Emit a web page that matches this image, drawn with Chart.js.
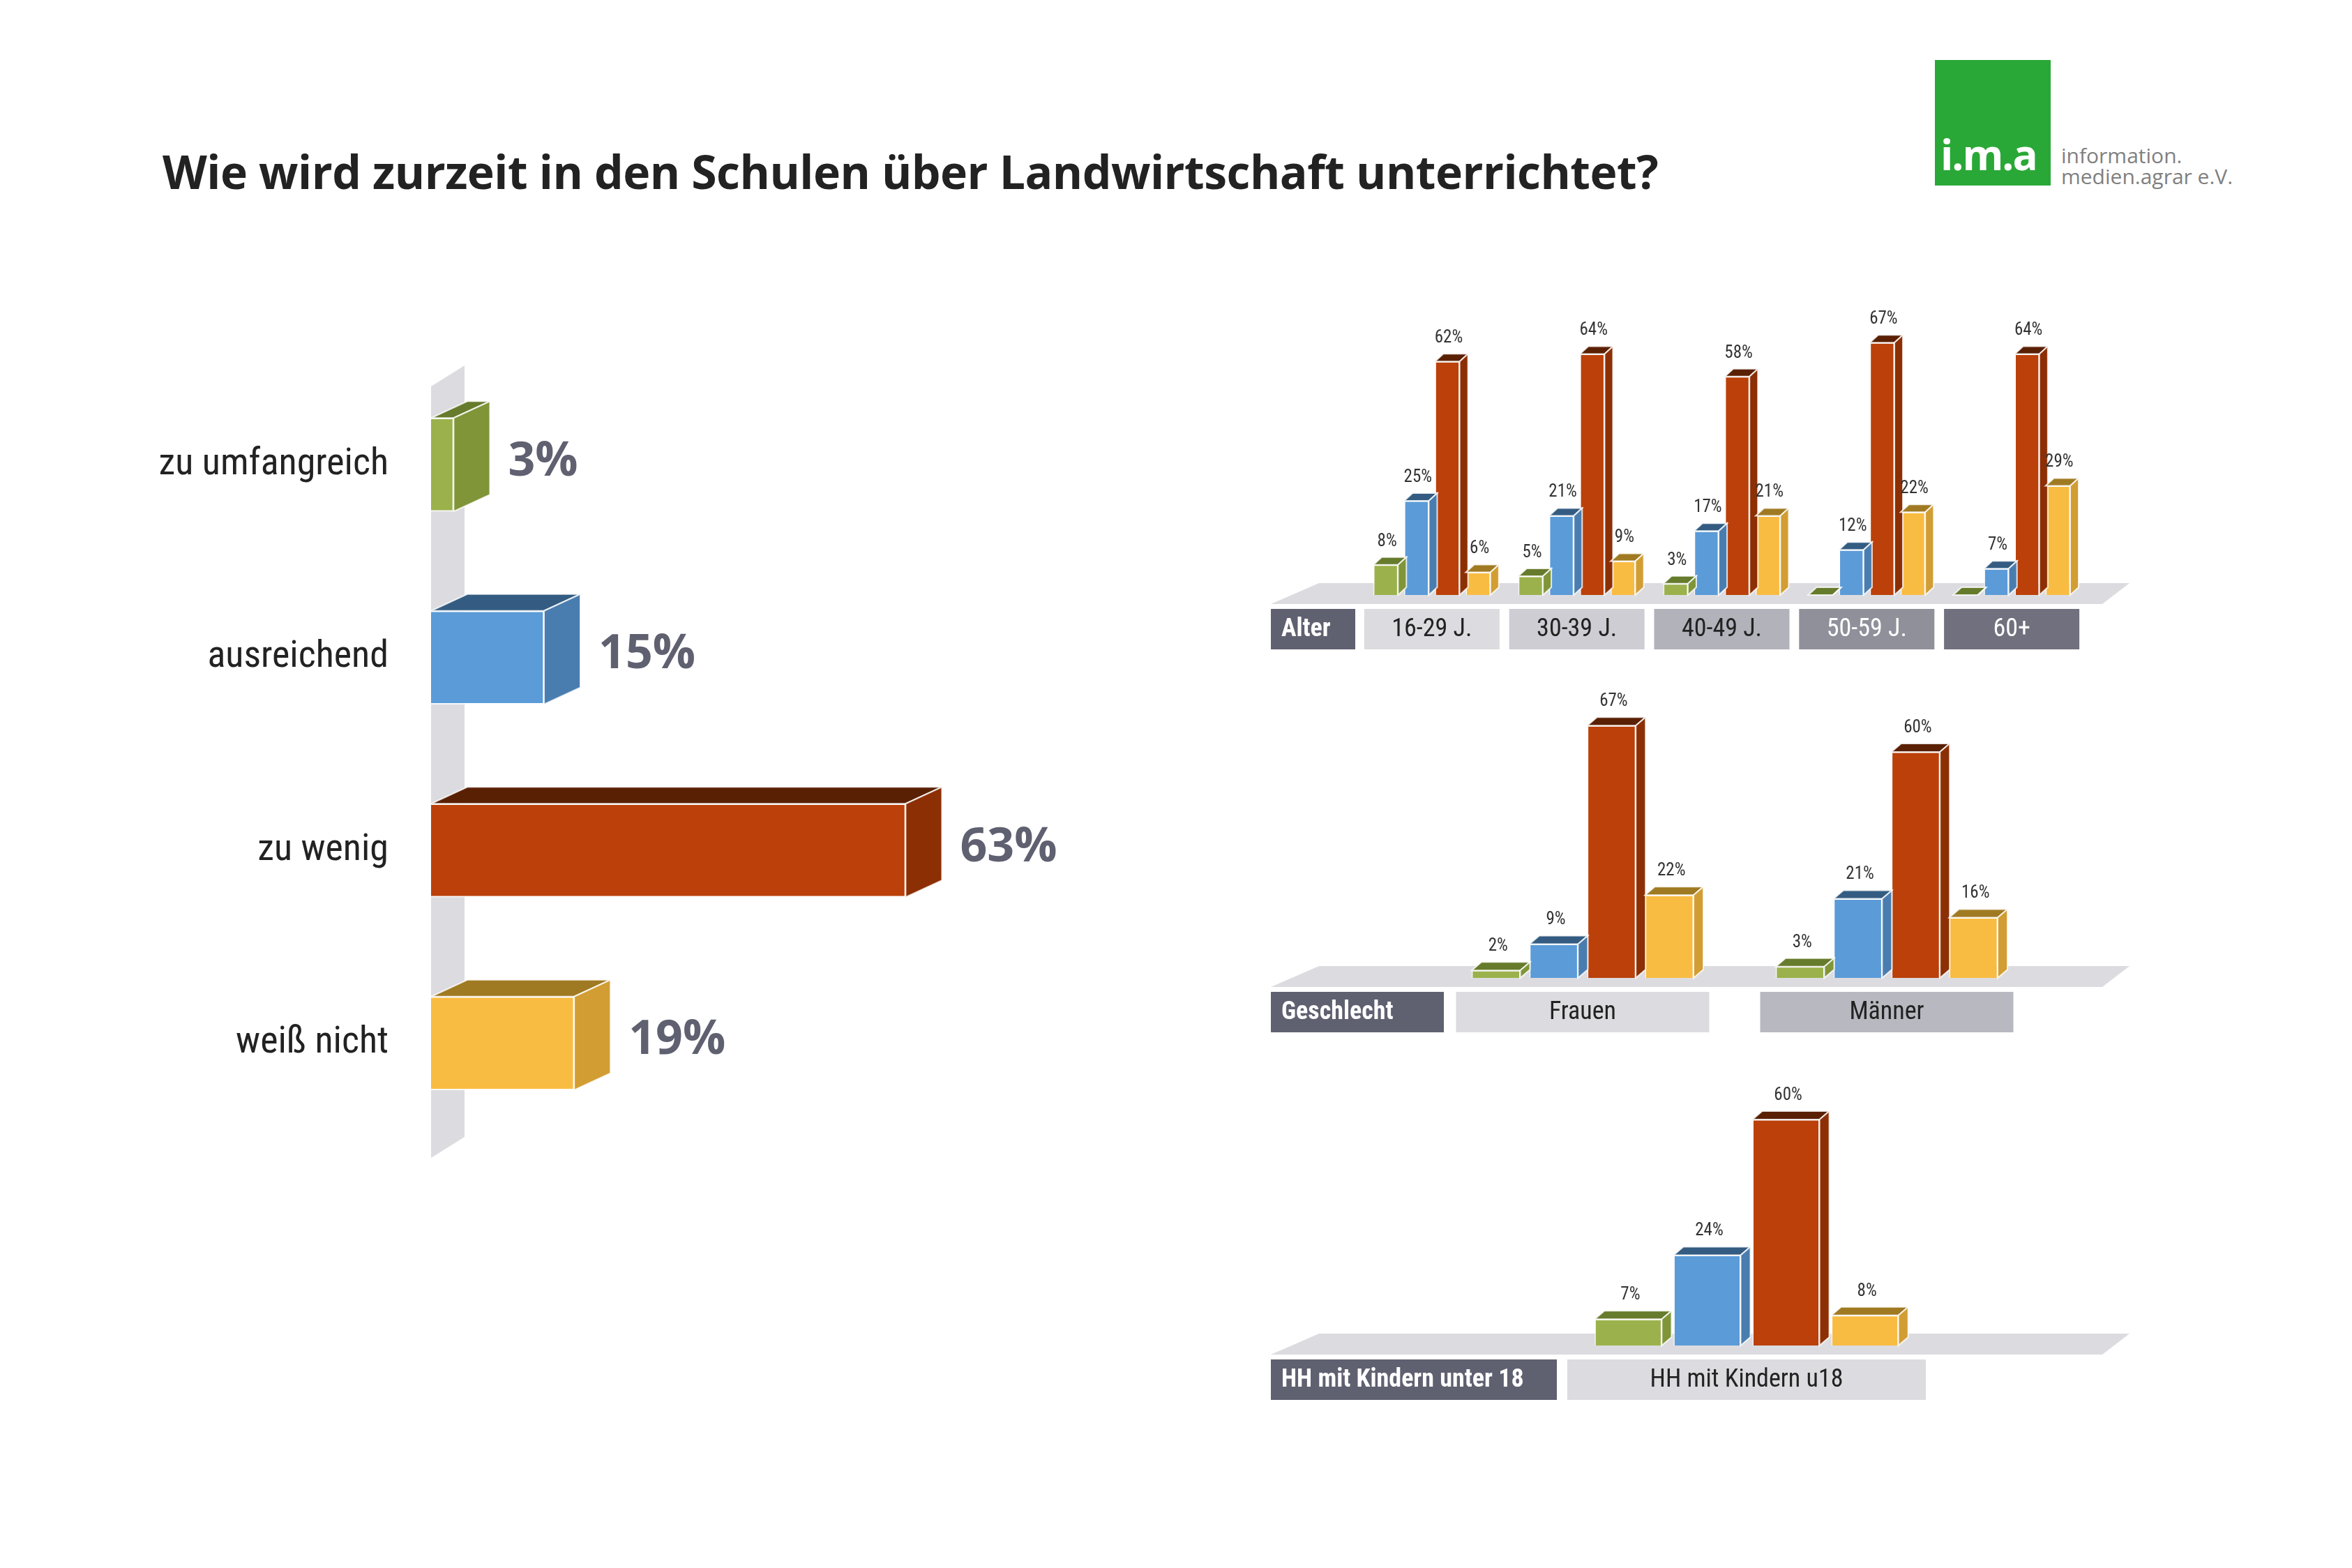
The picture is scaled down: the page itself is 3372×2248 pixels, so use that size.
<!DOCTYPE html>
<html><head><meta charset="utf-8">
<script src="https://cdn.jsdelivr.net/npm/chart.js@4"></script>
<style>
body{margin:0;background:#fff;width:3372px;height:2248px;position:relative;overflow:hidden;font-family:"Open Sans",sans-serif}
.c{position:absolute}
#title{position:absolute;left:233px;top:200px;font-size:66px;font-weight:bold;color:#222;letter-spacing:-0.5px}
#logo{position:absolute;left:2774px;top:86px;width:166px;height:180px;background:#2aa837}
#logo span{position:absolute;left:8px;bottom:4px;color:#fff;font:bold 60px "Open Sans";letter-spacing:-2px}
#logotxt{position:absolute;left:2955px;top:208px;color:#808080;font:30px "Open Sans";line-height:30px}
</style></head><body>
<div id="title">Wie wird zurzeit in den Schulen über Landwirtschaft unterrichtet?</div>
<div id="logo"><span>i.m.a</span></div>
<div id="logotxt">information.<br>medien.agrar e.V.</div>
<canvas id="main" class="c" style="left:0;top:500px" width="1800" height="1200"></canvas>
<canvas id="alter" class="c" style="left:1805px;top:428px" width="1275" height="520"></canvas>
<canvas id="gesch" class="c" style="left:1805px;top:968px" width="1275" height="530"></canvas>
<canvas id="kids" class="c" style="left:1805px;top:1508px" width="1275" height="520"></canvas>
<script>
const answers = ['zu umfangreich','ausreichend','zu wenig','weiß nicht'];
const totalValues = [3,15,63,19];
const ageGroups = ['16-29 J.','30-39 J.','40-49 J.','50-59 J.','60+'];
const ageGreen = [8,5,3,0,0];
const ageBlue = [25,21,17,12,7];
const ageRed = [62,64,58,67,64];
const ageYellow = [6,9,21,22,29];
const sexGroups = ['Frauen','Männer'];
const sexGreen = [2,3];
const sexBlue = [9,21];
const sexRed = [67,60];
const sexYellow = [22,16];
const kidGroups = ['HH mit Kindern u18'];
const kidGreen = [7];
const kidBlue = [24];
const kidRed = [60];
const kidYellow = [8];

const front = ['#9bb24c','#5b9bd8','#bb400a','#f9bc42'];
const side = ['#7f9538','#4a7daf','#8c2f04','#d29d32'];
const top_ = ['#667b2c','#345c82','#5a2003','#a07a22'];
const NARROW = '"Liberation Sans Narrow","Roboto Condensed","Liberation Sans",sans-serif';

function poly(ctx, pts, fill){
  ctx.beginPath(); ctx.moveTo(pts[0][0],pts[0][1]);
  for(let i=1;i<pts.length;i++) ctx.lineTo(pts[i][0],pts[i][1]);
  ctx.closePath(); ctx.fillStyle=fill; ctx.fill();
  ctx.strokeStyle='rgba(255,255,255,0.8)'; ctx.lineWidth=2; ctx.stroke();
}

// horizontal main chart
const mainDepth = {dx:52, dy:24};
new Chart(document.getElementById('main'), {
  type:'bar',
  data:{labels:answers, datasets:[{data:totalValues, backgroundColor:front, borderColor:'rgba(255,255,255,0.8)', borderWidth:2, barThickness:134}]},
  options:{indexAxis:'y', responsive:false, animation:false,
    layout:{padding:{left:618,right:102,top:28,bottom:66}},
    plugins:{legend:{display:false},tooltip:{enabled:false}},
    scales:{x:{display:false,min:0,max:100},y:{display:false}}},
  plugins:[{id:'h3d',
    beforeDatasetsDraw(chart){
      const ctx=chart.ctx, a=chart.chartArea, l=a.left;
      ctx.save();
      ctx.beginPath(); ctx.moveTo(l,a.top+26); ctx.lineTo(l+48,a.top-4);
      ctx.lineTo(l+48,a.bottom-4); ctx.lineTo(l,a.bottom+26); ctx.closePath();
      ctx.fillStyle='#dcdce0'; ctx.fill(); ctx.restore();
    },
    afterDatasetsDraw(chart){
      const ctx=chart.ctx, {dx,dy}=mainDepth;
      ctx.save();
      chart.getDatasetMeta(0).data.forEach((b,i)=>{
        const x0=b.base, x1=b.x, t=b.y-b.height/2, bt=b.y+b.height/2;
        poly(ctx,[[x0,t],[x1,t],[x1+dx,t-dy],[x0+dx,t-dy]],top_[i]);
        poly(ctx,[[x1,t],[x1+dx,t-dy],[x1+dx,bt-dy],[x1,bt]],side[i]);
        ctx.fillStyle='#5f6070'; ctx.font='bold 68px "Open Sans"'; ctx.textBaseline='middle'; ctx.textAlign='left';
        ctx.fillText(totalValues[i]+'%', x1+dx+26, b.y-4);
        ctx.fillStyle='#222'; ctx.font='54px '+NARROW; ctx.textAlign='right';
        ctx.fillText(answers[i], 557, b.y);
      });
      ctx.restore();
    }}]
});

// small vertical charts
function smallChart(id, labels, series, cfg){
  new Chart(document.getElementById(id), {
    type:'bar',
    data:{labels, datasets:series.map((s,i)=>({data:s, backgroundColor:front[i], borderColor:'rgba(255,255,255,0.8)', borderWidth:1.5,
      categoryPercentage:cfg.cat, barPercentage:cfg.bar}))},
    options:{responsive:false, animation:false,
      layout:{padding:cfg.pad},
      plugins:{legend:{display:false},tooltip:{enabled:false}},
      scales:{x:{display:false},y:{display:false,min:0,max:75}}},
    plugins:[{id:'v3d',
      beforeDatasetsDraw(chart){
        const ctx=chart.ctx, base=chart.chartArea.bottom;
        ctx.save();
        ctx.beginPath(); ctx.moveTo(17,base+13); ctx.lineTo(86,base-17); ctx.lineTo(1248,base-17); ctx.lineTo(1209,base+13); ctx.closePath();
        ctx.fillStyle='#dcdce0'; ctx.fill();
        const ry=base+20, rh=58;
        ctx.fillStyle='#5f6070'; ctx.fillRect(17,ry,cfg.head,rh);
        ctx.fillStyle='#fff'; ctx.font='bold 36px '+NARROW; ctx.textBaseline='middle'; ctx.textAlign='left';
        ctx.fillText(cfg.title, 32, ry+rh/2+1);
        labels.forEach((lab,i)=>{
          const cx=chart.scales.x.getPixelForValue(i);
          ctx.fillStyle=cfg.boxColors[i]; ctx.fillRect(cx-cfg.boxW/2,ry,cfg.boxW,rh);
          ctx.fillStyle=cfg.textColors[i]; ctx.font='36px '+NARROW; ctx.textAlign='center';
          ctx.fillText(lab, cx, ry+rh/2+1);
        });
        ctx.restore();
      },
      afterDatasetsDraw(chart){
        const ctx=chart.ctx, dx=cfg.dx, dy=cfg.dy;
        ctx.save();
        chart.data.datasets.forEach((ds,di)=>{
          chart.getDatasetMeta(di).data.forEach((b,i)=>{
            const w=b.width, l=b.x-w/2, r=b.x+w/2, t=b.y, bt=b.base;
            poly(ctx,[[l,t],[r,t],[r+dx,t-dy],[l+dx,t-dy]],top_[di]);
            poly(ctx,[[r,t],[r+dx,t-dy],[r+dx,bt-dy],[r,bt]],side[di]);
            if(ds.data[i]>0){
              ctx.fillStyle='#333'; ctx.font=cfg.font+'px '+NARROW; ctx.textAlign='center'; ctx.textBaseline='bottom';
              ctx.fillText(ds.data[i]+'%', b.x+dx/2-4, t-dy-10);
            }
          });
        });
        ctx.restore();
      }}]
  });
}
smallChart('alter', ageGroups, [ageGreen,ageBlue,ageRed,ageYellow],
  {pad:{left:144,right:92,top:20,bottom:95}, cat:0.85, bar:0.8, dx:12, dy:11, font:25, title:'Alter', head:121, boxW:194,
   boxColors:['#dcdce0','#cdcdd3','#b2b2ba','#90909b','#70707e'], textColors:['#222','#222','#222','#fff','#fff']});
smallChart('gesch', sexGroups, [sexGreen,sexBlue,sexRed,sexYellow],
  {pad:{left:246,right:157,top:29,bottom:96}, cat:0.76, bar:0.84, dx:14, dy:12, font:25, title:'Geschlecht', head:248, boxW:363,
   boxColors:['#dcdce0','#b8b8c0'], textColors:['#222','#222']});
smallChart('kids', kidGroups, [kidGreen,kidBlue,kidRed,kidYellow],
  {pad:{left:442,right:319,top:16,bottom:99}, cat:0.88, bar:0.85, dx:14, dy:12, font:25, title:'HH mit Kindern unter 18', head:410, boxW:514,
   boxColors:['#dcdce0'], textColors:['#222']});
</script>
</body></html>
